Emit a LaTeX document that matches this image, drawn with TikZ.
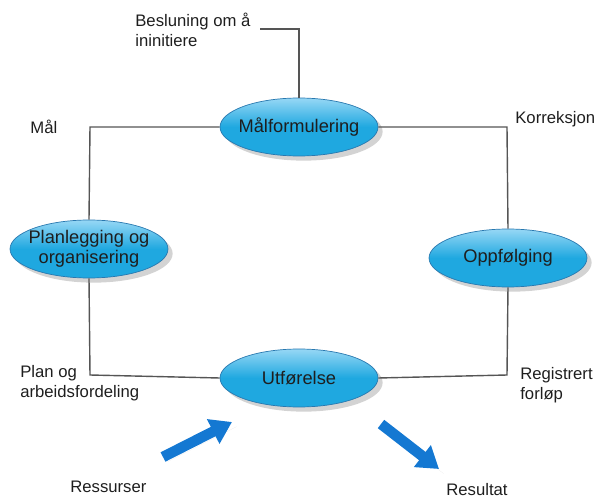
\documentclass[tikz,border=0pt]{standalone}
\usepackage{fontspec}
\setmainfont{Liberation Sans}
\usetikzlibrary{shadows,arrows.meta,shapes.geometric}
\definecolor{fase}{RGB}{31,168,224}
\definecolor{faselys}{RGB}{150,215,245}
\definecolor{kant}{RGB}{40,120,175}
\definecolor{pil}{RGB}{20,120,210}
\definecolor{strek}{RGB}{85,85,85}
\definecolor{tekst}{RGB}{30,30,30}
\begin{document}
\begin{tikzpicture}[x=0.02cm,y=-0.02cm,
	fase/.style={ellipse,draw=kant,line width=0.4pt,minimum width=3.16cm,minimum height=1.16cm,
		top color=faselys,bottom color=fase,middle color=fase,drop shadow={opacity=0.35},
		text=tekst,font=\fontsize{10.4}{11.5}\selectfont,align=center,inner sep=-5pt},
	merke/.style={text=tekst,font=\fontsize{9.5}{11.5}\selectfont,align=left,inner sep=0pt},
	linje/.style={strek,line width=0.8pt},
	blokkpil/.style={pil,line width=6pt,-{Triangle[length=12pt,width=15pt]},
		drop shadow={opacity=0.3}}]
	\useasboundingbox (0,0) rectangle (596,497);
	
	% faser
	\node[fase] (maal) at (299,127) {Målformulering};
	\node[fase] (plan) at (89,249) {Planlegging og\\organisering};
	\node[fase] (opp) at (508,258) {Oppfølging};
	\node[fase] (utf) at (299,378) {Utførelse};
	
	% hjørner
	\coordinate (nv) at (90,127);
	\coordinate (no) at (507,127);
	\coordinate (sv) at (90,375);
	\coordinate (so) at (507,375);
	\coordinate (topp) at (299,29);
	\coordinate (start) at (260,29);
	
	\draw[linje] (maal.west) -- (nv) -- (plan.north);
	\draw[linje] (plan.south) -- (sv) -- (utf.west);
	\draw[linje] (utf.east) -- (so) -- (opp.south);
	\draw[linje] (opp.north) -- (no) -- (maal.east);
	\draw[linje] (maal.north) -- (topp) -- (start);
	
	% tekster
	\node[merke,anchor=west] (besl) at (135,30) {Besluning om å\\ininitiere};
	\node[merke,anchor=west] (maal-t) at (30,127) {Mål};
	\node[merke,anchor=west] (korr) at (515,119) {Korreksjon};
	\node[merke,anchor=west] (plan-t) at (20,383) {Plan og\\arbeidsfordeling};
	\node[merke,anchor=west] (reg) at (520,385) {Registrert\\forløp};
	\node[merke,anchor=west] (ress) at (70,487) {Ressurser};
	\node[merke,anchor=west] (res) at (446,490) {Resultat};
	
	% piler
	\coordinate (inn0) at (163,457);
	\coordinate (inn1) at (232,422);
	\coordinate (ut0) at (381,424);
	\coordinate (ut1) at (439,469);
	\draw[blokkpil] (inn0) -- (inn1);
	\draw[blokkpil] (ut0) -- (ut1);
\end{tikzpicture}
\end{document}
